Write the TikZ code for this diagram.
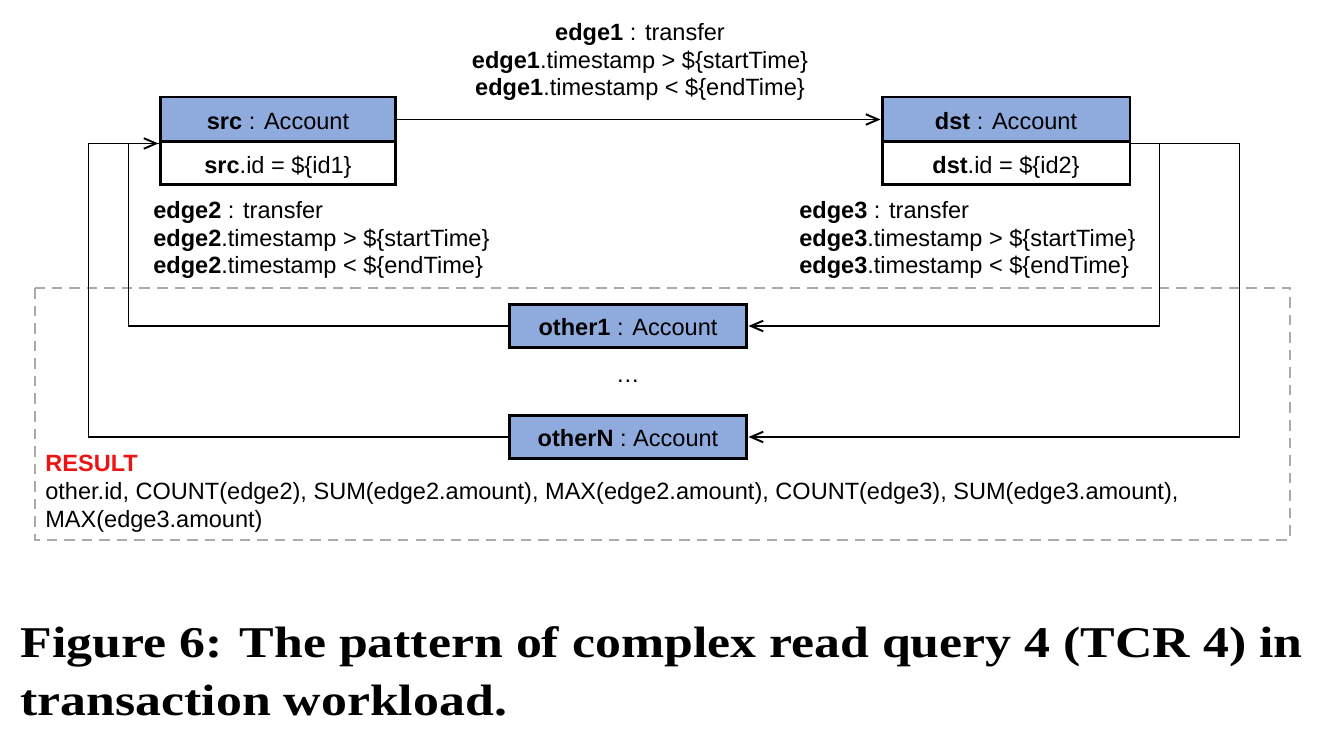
\documentclass[tikz,border=0pt]{standalone}
\usepackage{fontspec}
\setmainfont{Liberation Sans}
\newfontfamily\capfont[FakeStretch=1.18]{Liberation Serif}
\usetikzlibrary{arrows.meta}

\definecolor{acctblue}{RGB}{143,170,220}
\definecolor{resultred}{RGB}{235,20,20}
\definecolor{framegray}{RGB}{170,170,170}

\tikzset{
  acct/.style={draw=black, line width=1.7pt, fill=acctblue, inner sep=0pt,
    text height=11pt, text depth=0pt, font=\fontsize{13.4}{15}\selectfont},
  idbox/.style={draw=black, line width=1.7pt, fill=white, inner sep=0pt,
    text height=11pt, text depth=0pt, font=\fontsize{13.4}{15}\selectfont},
  lbl/.style={inner sep=0pt, font=\fontsize{13.4}{15.7}\selectfont},
  flow/.style={line width=1.1pt, -{Straight Barb[length=7pt,width=6pt,line width=1.1pt]}},
  wire/.style={line width=1.1pt}
}

\begin{document}
\begin{tikzpicture}[x=0.02cm, y=-0.02cm]
% canvas of the reference, one unit is one pixel
\useasboundingbox (0,0) rectangle (1324,742);

% Draw the result frame
\draw[framegray, line width=1.4pt, dash pattern=on 6pt off 4pt] (35,288) rectangle (1290,540);

% Draw the two fixed accounts
\node[acct, minimum width=4.72cm, minimum height=0.9cm] (srcH) at (278,119.5) {\textbf{src} : Account};
\node[idbox, minimum width=4.72cm, minimum height=0.86cm, anchor=north] (srcB) at ([yshift=1.7pt]srcH.south) {\textbf{src}.id = \$\{id1\}};
\node[acct, minimum width=4.96cm, minimum height=0.9cm] (dstH) at (1006,119.5) {\textbf{dst} : Account};
\node[idbox, minimum width=4.96cm, minimum height=0.86cm, anchor=north] (dstB) at ([yshift=1.7pt]dstH.south) {\textbf{dst}.id = \$\{id2\}};

% Draw the other accounts
\node[acct, minimum width=4.76cm, minimum height=0.86cm] (other1) at (628,326) {\textbf{other1} : Account};
\node[lbl] (dots) at (628,381) {\ldots};
\node[acct, minimum width=4.76cm, minimum height=0.86cm] (otherN) at (628,437) {\textbf{otherN} : Account};

% Edge labels
\node[lbl, align=center, font=\fontsize{13.4}{15.9}\selectfont] (edge1lbl) at (640,62) {\textbf{edge1} : transfer\\\textbf{edge1}.timestamp > \$\{startTime\}\\\textbf{edge1}.timestamp < \$\{endTime\}};
\node[lbl, align=left, anchor=west] (edge2lbl) at (153,240) {\textbf{edge2} : transfer\\\textbf{edge2}.timestamp > \$\{startTime\}\\\textbf{edge2}.timestamp < \$\{endTime\}};
\node[lbl, align=left, anchor=west] (edge3lbl) at (799,240) {\textbf{edge3} : transfer\\\textbf{edge3}.timestamp > \$\{startTime\}\\\textbf{edge3}.timestamp < \$\{endTime\}};

% Connectors
\draw[flow] (srcH.east) -- (dstH.west);
\draw[flow] (dstH.south east) -- ++(28,0) |- (other1.east);
\draw[flow] (dstH.south east) -- ++(108,0) |- (otherN.east);
\draw[wire] (other1.west) -- ++(-379,0) |- (srcH.south west);
\draw[flow] (otherN.west) -- ++(-419,0) |- (srcH.south west);

% Result text
\node[lbl, anchor=base west, text=resultred, font=\fontsize{13.4}{15}\selectfont\bfseries] (result) at (45,472) {RESULT};
\node[lbl, align=left, anchor=base west] (resultcols) at (45,527) {other.id, COUNT(edge2), SUM(edge2.amount), MAX(edge2.amount), COUNT(edge3), SUM(edge3.amount),\\MAX(edge3.amount)};

% Caption
\node[anchor=base west, inner sep=0pt, font=\capfont\fontsize{25}{30}\selectfont\bfseries] (caption1) at (20,657) {Figure 6: The pattern of complex read query 4 (TCR 4) in};
\node[anchor=base west, inner sep=0pt, font=\capfont\fontsize{25}{30}\selectfont\bfseries] (caption2) at (20,715) {transaction workload.};
\end{tikzpicture}
\end{document}
